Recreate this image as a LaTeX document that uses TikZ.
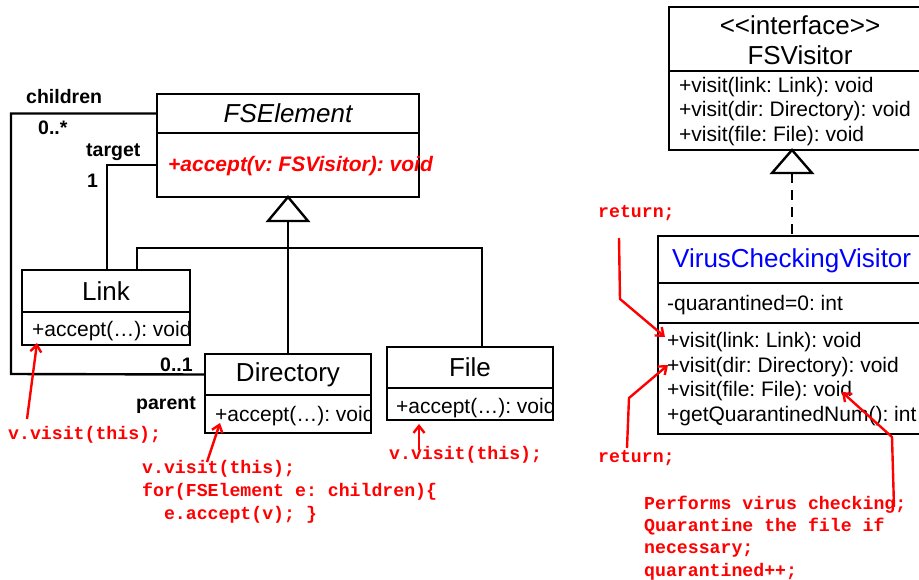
\documentclass[tikz,border=0pt]{standalone}
\usepackage{fontspec}
\setmainfont{Liberation Sans}
\newfontfamily\codefont{Liberation Mono}
\usetikzlibrary{arrows.meta}
\definecolor{annred}{RGB}{255,0,0}
\definecolor{vblue}{RGB}{0,0,255}
\AtBeginDocument{\frenchspacing}
\begin{document}
\begin{tikzpicture}[x=1pt,y=-1pt,
  box/.style={draw, line width=2.4pt, anchor=north west, inner sep=0pt, outer sep=0pt},
  ttl/.style={font=\fontsize{26}{28}\selectfont, inner sep=0pt},
  meth/.style={font=\fontsize{21}{24}\selectfont, anchor=west, inner sep=0pt},
  role/.style={font=\fontsize{19.5}{22}\selectfont\bfseries, anchor=west, inner sep=0pt},
  code/.style={font=\fontsize{18.2}{23}\selectfont\codefont\bfseries, text=annred, anchor=west, inner sep=0pt},
  ann/.style={draw=annred, line width=2.4pt, line join=miter, -{Straight Barb[length=7pt,width=11pt]}},
  assoc/.style={line width=2.4pt},
]
\clip (0,0) rectangle (919,579);
\fill[white] (0,0) rectangle (919,579);

% ---------- FSElement ----------
\node[box, minimum width=262pt, minimum height=39pt] (fseT) at (157,94) {};
\node[box, minimum width=262pt, minimum height=64pt] (fseM) at (157,133) {};
\node[ttl] (fseName) at (fseT.center) {\itshape FSElement};
\node[meth, font=\fontsize{21}{24}\selectfont\bfseries\itshape, text=annred] (fseAcc) at (168,166) {+accept(v: FSVisitor): void};

% ---------- Link ----------
\node[box, minimum width=168pt, minimum height=42pt] (lnkT) at (22,270) {};
\node[box, minimum width=168pt, minimum height=33pt] (lnkM) at (22,312) {};
\node[ttl] (lnkName) at (lnkT.center) {Link};
\begin{scope}
  \clip (lnkM.north west) rectangle (lnkM.south east);
  \node[meth] (lnkAcc) at (32,331) {+accept(…): void};
\end{scope}
\draw[line width=2.4pt] (lnkM.north west) rectangle (lnkM.south east);

% ---------- Directory ----------
\node[box, minimum width=166pt, minimum height=41pt] (dirT) at (205,354) {};
\node[box, minimum width=166pt, minimum height=38pt] (dirM) at (205,395) {};
\node[ttl] (dirName) at (dirT.center) {Directory};
\begin{scope}
  \clip (dirM.north west) rectangle (dirM.south east);
  \node[meth] (dirAcc) at (215,416) {+accept(…): void};
\end{scope}
\draw[line width=2.4pt] (dirM.north west) rectangle (dirM.south east);

% ---------- File ----------
\node[box, minimum width=166pt, minimum height=41pt] (filT) at (387,347) {};
\node[box, minimum width=166pt, minimum height=32pt] (filM) at (387,388) {};
\node[ttl] (filName) at (filT.center) {File};
\begin{scope}
  \clip (filM.north west) rectangle (filM.south east);
  \node[meth] (filAcc) at (396,408) {+accept(…): void};
\end{scope}
\draw[line width=2.4pt] (filM.north west) rectangle (filM.south east);

% ---------- associations ----------
\coordinate (chCorner) at (11,374);
\draw[assoc] (fseT.west) -| (chCorner) -- (dirT.west);
\coordinate (tgIn) at (107,270);
\draw[assoc] (fseM.west) -| (tgIn);
\node[role] (lblChildren) at (26,97) {children};
\node[role] (lblMany) at (38,128) {0..*};
\node[role] (lblTarget) at (86,152) {target};
\node[role] (lblOne) at (87,181) {1};
\node[role] (lblZeroOne) at (160,365) {0..1};
\node[role] (lblParent) at (136,405) {parent};

% ---------- generalisation ----------
\coordinate (triBase) at (288,221);
\coordinate (bar) at (288,248);
\coordinate (lnkIn) at (137,270);
\coordinate (filIn) at (482,347);
\draw[assoc] (triBase) -- (dirT.north);
\draw[assoc] (lnkIn) |- (bar) -| (filIn);
\draw[line width=2.4pt, fill=white, line join=miter] (fseM.south) -- ++(-20,24) -- ++(40,0) -- cycle;

% ---------- FSVisitor ----------
\node[box, minimum width=262pt, minimum height=64pt] (fsvT) at (669,7) {};
\node[box, minimum width=262pt, minimum height=79pt] (fsvM) at (669,71) {};
\node[ttl] (fsvSt) at (800,25) {<\kern0pt<interface>\kern0pt>};
\node[ttl] (fsvName) at (800,55) {FSVisitor};
\node[meth] (fsv1) at (679,87) {+visit(link: Link): void};
\node[meth] (fsv2) at (679,111) {+visit(dir: Directory): void};
\node[meth] (fsv3) at (679,136) {+visit(file: File): void};

% ---------- VirusCheckingVisitor ----------
\node[box, minimum width=280pt, minimum height=47pt] (vcvT) at (658,236) {};
\node[box, minimum width=280pt, minimum height=40pt] (vcvA) at (658,283) {};
\node[box, minimum width=280pt, minimum height=111pt] (vcvM) at (658,323) {};
\node[ttl, anchor=west, text=vblue] (vcvName) at (672,261) {VirusCheckingVisitor};
\node[meth] (vcvAttr) at (667,305) {-quarantined=0: int};
\node[meth] (vcv1) at (667,342) {+visit(link: Link): void};
\node[meth] (vcv2) at (667,367) {+visit(dir: Directory): void};
\node[meth] (vcv3) at (667,391) {+visit(file: File): void};
\node[meth] (vcv4) at (667,416) {+getQuarantinedNum(): int};

% realisation
\coordinate (apex2) at (792,150);
\coordinate (base2) at (792,173);
\coordinate (vcvIn) at (792,236);
\draw[line width=2.4pt, dash pattern=on 10pt off 7pt] (base2) -- (vcvIn);
\draw[line width=2.4pt, fill=white, line join=miter] (apex2) -- ++(-20,23) -- ++(40,0) -- cycle;

% ---------- annotations ----------
\node[code] (cLink) at (8,435) {v.visit(this);};
\node[code] (cDir1) at (142,469) {v.visit(this);};
\node[code] (cDir2) at (142,492) {for(FSElement e: children)\{};
\node[code] (cDir3) at (142,515) {\phantom{ee}e.accept(v); \}};
\node[code] (cFile) at (389,455) {v.visit(this);};
\node[code] (cRet1) at (598,213) {return;};
\node[code] (cRet2) at (598,458) {return;};
\node[code] (cPerf1) at (644,505) {Performs virus checking;};
\node[code] (cPerf2) at (644,527) {Quarantine the file if};
\node[code] (cPerf3) at (644,550) {necessary;};
\node[code] (cPerf4) at (644,572) {quarantined++;};

\coordinate (aL1) at (27,419);  \coordinate (aL2) at (37,343);
\coordinate (aD1) at (207,462); \coordinate (aD2) at (220,423);
\coordinate (aF1) at (419,450); \coordinate (aF2) at (419,424);
\coordinate (r1a) at (619,238); \coordinate (r1b) at (620,299); \coordinate (r1c) at (665,337);
\coordinate (r2a) at (627,448); \coordinate (r2b) at (629,398); \coordinate (r2c) at (668,365);
\coordinate (pa) at (894,507);  \coordinate (pb) at (892,437);  \coordinate (pc) at (842,392);
\draw[ann] (aL1) -- (aL2);
\draw[ann] (aD1) -- (aD2);
\draw[ann] (aF1) -- (aF2);
\draw[ann] (r1a) -- (r1b) -- (r1c);
\draw[ann] (r2a) -- (r2b) -- (r2c);
\draw[ann] (pa) -- (pb) -- (pc);
\end{tikzpicture}
\end{document}
